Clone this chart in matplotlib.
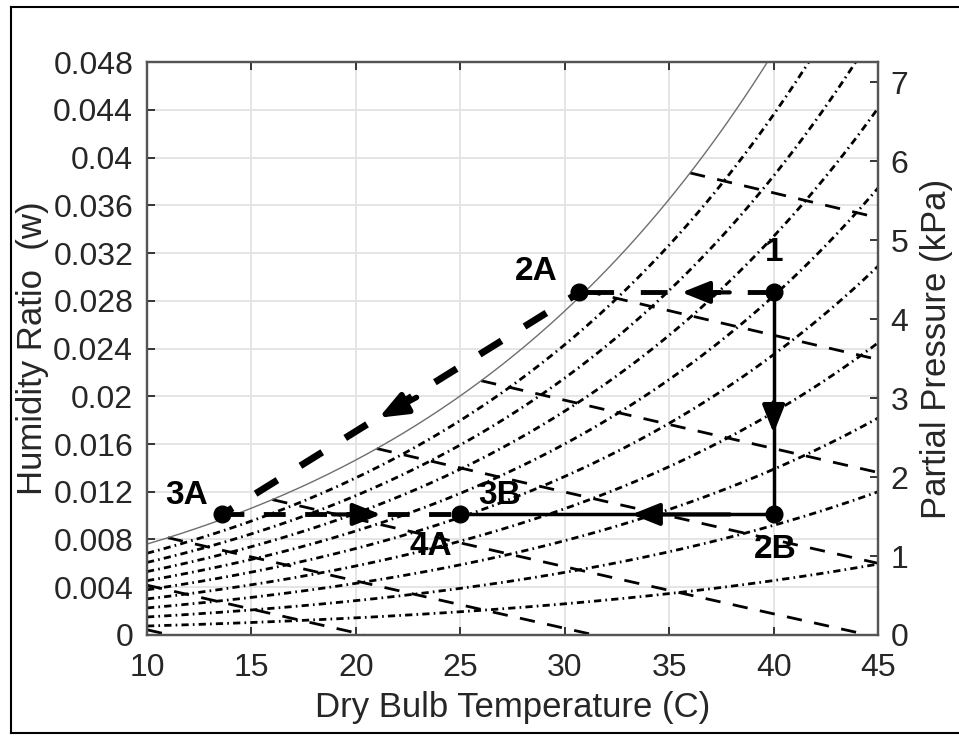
import numpy as np
import matplotlib.pyplot as plt
from matplotlib.lines import Line2D

plt.rcParams['font.family'] = ['Liberation Sans', 'DejaVu Sans']

P_ATM = 101.325  # kPa

# relative humidity curves (saturation curve drawn on its own)
rh_levels = [0.1, 0.2, 0.3, 0.4, 0.5, 0.6, 0.7, 0.8, 0.9]
# saturation temperatures where the constant enthalpy lines start
h_start_temps = [1, 6, 11, 16, 21, 26, 31, 36]

# process states (dry bulb C, humidity ratio)
state_names = ['1', '2A', '2B', '3A', '3B', '4A']
state_T = [40.0, 30.7, 40.0, 13.6, 25.0, 25.0]
state_w = [0.0287, 0.0287, 0.0101, 0.0101, 0.0101, 0.0101]

x_ticks = [10, 15, 20, 25, 30, 35, 40, 45]
w_ticks = [0, 0.004, 0.008, 0.012, 0.016, 0.02, 0.024, 0.028, 0.032, 0.036, 0.04, 0.044, 0.048]
p_ticks = [0, 1, 2, 3, 4, 5, 6, 7]


def p_sat(t):
    return 0.61094 * np.exp(17.625 * t / (t + 243.04))


def w_from_p(p):
    return 0.622 * p / (P_ATM - p)


fig = plt.figure(figsize=(9.59, 7.40), dpi=100)
ax = fig.add_axes([0.1533, 0.1419, 0.7623, 0.7743])

T = np.linspace(10, 45, 300)
ps = p_sat(T)

for phi in rh_levels:
    ax.plot(T, w_from_p(phi * ps), color='k', lw=2.0,
            linestyle=(0, (2.6, 1.5, 0.6, 1.5)), zorder=2)

for t0 in h_start_temps:
    ws0 = w_from_p(p_sat(t0))
    h0 = 1.006 * t0 + ws0 * (2501 + 1.86 * t0)
    tl = np.linspace(max(t0, 10), 45, 200)
    wl = (h0 - 1.006 * tl) / (2501 + 1.86 * tl)
    keep = wl >= 0
    ax.plot(tl[keep], wl[keep], color='k', lw=2.0,
            linestyle=(0, (5.5, 4.5)), zorder=2)

ax.plot(T, w_from_p(ps), color='#6e6e6e', lw=1.0, zorder=3)

# process lines
s = dict(zip(state_names, zip(state_T, state_w)))
ax.plot([s['1'][0], s['2A'][0]], [s['1'][1], s['2A'][1]], color='k', lw=3.5,
         linestyle=(0, (5.5, 5.5)), zorder=4)
ax.plot([s['2A'][0], s['3A'][0]], [s['2A'][1], s['3A'][1]], color='k', lw=5,
         linestyle=(2, (3.7, 3.9)), zorder=4)
ax.plot([s['3A'][0], s['3B'][0]], [s['3A'][1], s['3B'][1]], color='k', lw=3.5,
         linestyle=(0, (4.5, 4)), zorder=4)
ax.plot([s['1'][0], s['2B'][0]], [s['1'][1], s['2B'][1]], color='k', lw=2.5, zorder=4)
ax.plot([s['2B'][0], s['3B'][0]], [s['2B'][1], s['3B'][1]], color='k', lw=2.5, zorder=4)


def arrow(tail, tip, lw=3):
    ax.annotate('', xy=tip, xytext=tail, zorder=5,
                arrowprops=dict(arrowstyle='-|>,head_length=0.5,head_width=0.2',
                                color='k', lw=lw, mutation_scale=34,
                                shrinkA=0, shrinkB=0))


arrow((37.9, 0.0287), (35.6, 0.0287))
arrow((40.0, 0.0195), (40.0, 0.0169))
arrow((37.9, 0.0101), (33.2, 0.0101))
arrow((22.9, 0.0199), (21.1, 0.0182), lw=4)
arrow((18.9, 0.0101), (21.2, 0.0101))

ax.plot(state_T[:5], state_w[:5], 'o', color='k', ms=12, zorder=6)

label_offsets = {'1': (0, 40), '2A': (-43, 21), '2B': (2, -35),
                 '3A': (-36, 19), '3B': (39, 19), '4A': (-30, -32)}
for name, t, w in zip(state_names, state_T, state_w):
    ax.annotate(name, (t, w), xytext=label_offsets[name], textcoords='offset pixels',
                ha='center', va='center', fontsize=24, fontweight='bold', zorder=7)

ax.set_xlim(10, 45)
ax.set_ylim(0, 0.048)
ax.set_xticks(x_ticks)
ax.set_yticks(w_ticks)
ax.set_yticklabels(['%g' % v for v in w_ticks])
ax.grid(True, color='#e3e3e3', lw=1.3, zorder=0)
ax.set_axisbelow(True)
ax.tick_params(direction='in', length=6, width=1.3, labelsize=23,
               colors='#262626', top=True, right=False)
ax.tick_params(axis='y', pad=10)
ax.tick_params(axis='x', pad=13)
for sp in ax.spines.values():
    sp.set_color('#555555')
    sp.set_linewidth(1.6)
ax.set_xlabel('Dry Bulb Temperature (C)', fontsize=25, color='#262626', labelpad=6)
ax.set_ylabel('Humidity Ratio  (w)', fontsize=25, color='#262626', labelpad=3)

ax2 = ax.twinx()
ax2.set_ylim(0, 0.048 * P_ATM / (0.622 + 0.048))
ax2.set_yticks(p_ticks)
ax2.tick_params(direction='in', length=6, width=1.3, labelsize=23, colors='#262626', pad=9)
for sp in ax2.spines.values():
    sp.set_color('#555555')
    sp.set_linewidth(1.6)
ax2.set_ylabel('Partial Pressure (kPa)', fontsize=25, color='#262626', labelpad=8)

# outer frame
fig.add_artist(Line2D([11 / 959, 1], [1 - 7 / 740] * 2, transform=fig.transFigure, color='k', lw=1.5))
fig.add_artist(Line2D([11 / 959, 1], [1 - 733 / 740] * 2, transform=fig.transFigure, color='k', lw=1.5))
fig.add_artist(Line2D([11 / 959] * 2, [1 - 7 / 740, 1 - 733 / 740], transform=fig.transFigure, color='k', lw=1.5))

fig.savefig('out.png', dpi=100)
